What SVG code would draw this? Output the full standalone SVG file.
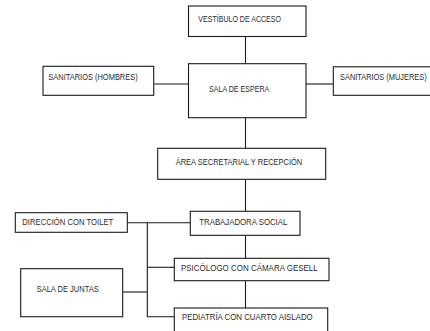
<svg xmlns="http://www.w3.org/2000/svg" width="430" height="331" viewBox="0 0 430 331">
<style>
.box{fill:#fff;stroke:#1a1a1a;stroke-width:1.1}
.lbl{font-family:"Liberation Sans",Arial,sans-serif;font-size:8.2px;fill:#2a2a2a}
.conn{stroke:#1a1a1a;stroke-width:1.1;fill:none}
</style>
<rect width="430" height="331" fill="#fff"/>
<g id="connectors">
<line class="conn" x1="245.5" y1="36.5" x2="245.5" y2="63.7"/>
<line class="conn" x1="153.7" y1="84" x2="188.5" y2="84"/>
<line class="conn" x1="306" y1="84" x2="333.3" y2="84"/>
<line class="conn" x1="245.5" y1="117.7" x2="245.5" y2="148.3"/>
<line class="conn" x1="245.5" y1="179.3" x2="245.5" y2="211.3"/>
<line class="conn" x1="127.3" y1="222.7" x2="190.3" y2="222.7"/>
<polyline class="conn" points="147.3,222.7 147.3,316.7 174.3,316.7"/>
<line class="conn" x1="147.3" y1="267.3" x2="174.3" y2="267.3"/>
<line class="conn" x1="122.7" y1="292" x2="147.3" y2="292"/>
<line class="conn" x1="245.5" y1="235.3" x2="245.5" y2="258.3"/>
<line class="conn" x1="245.5" y1="280.7" x2="245.5" y2="308"/>
</g>
<g id="vestibulo">
<rect class="box" x="188.5" y="6" width="117.5" height="30.5"/>
<text class="lbl" x="198.3" y="21.7" textLength="82.7" lengthAdjust="spacingAndGlyphs">VESTÍBULO DE ACCESO</text>
</g>
<g id="sala-espera">
<rect class="box" x="188.5" y="63.7" width="117.5" height="54"/>
<text class="lbl" x="209" y="91.7" textLength="60.3" lengthAdjust="spacingAndGlyphs">SALA DE ESPERA</text>
</g>
<g id="sanitarios-hombres">
<rect class="box" x="43" y="66.3" width="110.7" height="29"/>
<text class="lbl" x="48.3" y="79.7" textLength="89.4" lengthAdjust="spacingAndGlyphs">SANITARIOS (HOMBRES)</text>
</g>
<g id="sanitarios-mujeres">
<rect class="box" x="333.3" y="66.8" width="110" height="28.5"/>
<text class="lbl" x="340" y="79.7" textLength="86.7" lengthAdjust="spacingAndGlyphs">SANITARIOS (MUJERES)</text>
</g>
<g id="area-secretarial">
<rect class="box" x="157.7" y="148.3" width="168" height="31"/>
<text class="lbl" x="175.7" y="165" textLength="126.6" lengthAdjust="spacingAndGlyphs">ÁREA SECRETARIAL Y RECEPCIÓN</text>
</g>
<g id="trabajadora-social">
<rect class="box" x="190.3" y="211.3" width="109.7" height="24"/>
<text class="lbl" x="199.3" y="225" textLength="88" lengthAdjust="spacingAndGlyphs">TRABAJADORA SOCIAL</text>
</g>
<g id="direccion">
<rect class="box" x="15.3" y="212.7" width="112" height="19.6"/>
<text class="lbl" x="22.3" y="225" textLength="91" lengthAdjust="spacingAndGlyphs">DIRECCIÓN CON TOILET</text>
</g>
<g id="psicologo">
<rect class="box" x="174.3" y="258.3" width="154.7" height="22.4"/>
<text class="lbl" x="181" y="270.7" textLength="136.7" lengthAdjust="spacingAndGlyphs">PSICÓLOGO CON CÁMARA GESELL</text>
</g>
<g id="sala-juntas">
<rect class="box" x="20.7" y="268.7" width="102" height="48"/>
<text class="lbl" x="36.7" y="291.7" textLength="62" lengthAdjust="spacingAndGlyphs">SALA DE JUNTAS</text>
</g>
<g id="pediatria">
<rect class="box" x="174.3" y="308" width="153.4" height="30"/>
<text class="lbl" x="182" y="320" textLength="130.7" lengthAdjust="spacingAndGlyphs">PEDIATRÍA CON CUARTO AISLADO</text>
</g>
</svg>
